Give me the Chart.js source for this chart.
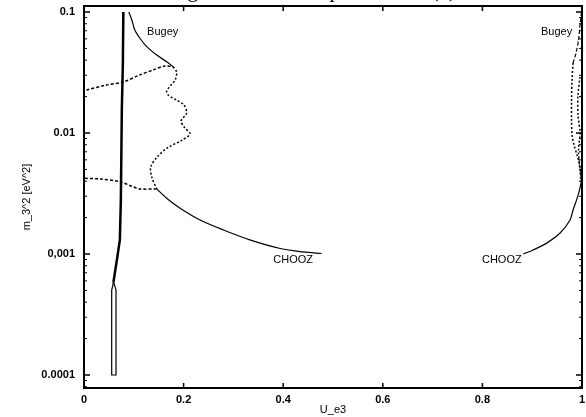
<!DOCTYPE html>
<html>
<head>
<meta charset="utf-8">
<style>
  html, body { margin: 0; padding: 0; background: #fff; }
  #wrap { width: 586px; height: 417px; }
</style>
</head>
<body>
<div id="wrap"><canvas id="chart" width="586" height="417"></canvas></div>
<script src="https://cdn.jsdelivr.net/npm/chart.js@4/dist/chart.umd.min.js"></script>
<script>
// axis ticks
const xTicks = [0, 0.2, 0.4, 0.6, 0.8, 1];
const xTickLabels = ['0', '0.2', '0.4', '0.6', '0.8', '1'];
const yTicks = [0.0001, 0.001, 0.01, 0.1];
const yTickLabels = ['0.0001', '0,001', '0.01', '0.1'];

// thick limit line, left
const limitU = [0.079, 0.078, 0.076, 0.074, 0.072, 0.066, 0.062, 0.059];
const limitM = [0.1, 0.0365, 0.0161, 0.00279, 0.00131, 0.00089, 0.00070, 0.00058];
// narrow double line at the bottom of it
const tubeU = [0.059, 0.0556, 0.0556, 0.0643, 0.0643, 0.060];
const tubeM = [0.00058, 0.0005, 0.0001, 0.0001, 0.0005, 0.00058];

// Bugey, left
const bugeyU = [0.090, 0.096, 0.102, 0.112, 0.126, 0.146, 0.166, 0.179];
const bugeyM = [0.1, 0.0859, 0.0710, 0.0610, 0.0517, 0.0441, 0.0388, 0.0353];
const bugeyDashU = [0.005, 0.045, 0.079, 0.112, 0.139, 0.162, 0.179];
const bugeyDashM = [0.0227, 0.0249, 0.0264, 0.0302, 0.0332, 0.0358, 0.0353];
const wiggleU = [0.179, 0.186, 0.183, 0.173, 0.166, 0.169, 0.186, 0.201, 0.206, 0.195, 0.201, 0.213, 0.197, 0.167, 0.147, 0.134, 0.136, 0.146];
const wiggleM = [0.0353, 0.0319, 0.0274, 0.0244, 0.0222, 0.0206, 0.0187, 0.0170, 0.0146, 0.0126, 0.0112, 0.00982, 0.00875, 0.00751, 0.00634, 0.00524, 0.00433, 0.00345];

// CHOOZ, left
const choozDashU = [0.002, 0.032, 0.072, 0.098, 0.112, 0.146];
const choozDashM = [0.00422, 0.00417, 0.00396, 0.00360, 0.00345, 0.00345];
const choozU = [0.146, 0.166, 0.193, 0.233, 0.280, 0.333, 0.394, 0.440, 0.477];
const choozM = [0.00345, 0.00289, 0.00239, 0.00191, 0.00158, 0.00131, 0.00111, 0.00104, 0.00101];

// right side, near U_e3 = 1
const bugeyRU = [0.999, 0.996, 0.993, 0.988, 0.982];
const bugeyRM = [0.1, 0.0781, 0.0587, 0.0458, 0.0379];
const dotR1U = [0.982, 0.980, 0.979, 0.979, 0.980, 0.984, 0.990, 0.996, 0.999];
const dotR1M = [0.0379, 0.0274, 0.0187, 0.0128, 0.00962, 0.00796, 0.00658, 0.00524, 0.00409];
const dotR2U = [0.996, 0.992, 0.992, 0.996, 0.993, 0.996, 0.998];
const dotR2M = [0.0291, 0.0206, 0.0141, 0.0100, 0.00724, 0.00494, 0.00386];
const choozRU = [0.998, 0.994, 0.989, 0.982, 0.976, 0.956, 0.929, 0.902, 0.882];
const choozRM = [0.00386, 0.00325, 0.00279, 0.00231, 0.00191, 0.00149, 0.00123, 0.00108, 0.00100];

// curve labels
const labelText = ['Bugey', 'Bugey', 'CHOOZ', 'CHOOZ'];
const labelU = [0.158, 0.949, 0.420, 0.839];
const labelM = [0.0684, 0.0684, 0.00089, 0.00089];

const titleText = 'Excluded region for reactor parameters (a)';

const pts = (u, m) => u.map((v, i) => ({ x: v, y: m[i] }));

function line(u, m, width, dash, tension) {
  return {
    data: pts(u, m),
    showLine: true,
    borderColor: '#000',
    borderWidth: width,
    borderDash: dash,
    pointRadius: 0,
    tension: tension,
  };
}

const decorations = {
  id: 'decorations',
  afterDraw(chart) {
    const { ctx, chartArea: a, scales: { x, y } } = chart;
    ctx.save();
    ctx.strokeStyle = '#000';
    ctx.lineWidth = 1.5;
    ctx.beginPath();
    xTicks.forEach((v) => {
      const px = x.getPixelForValue(v);
      ctx.moveTo(px, a.bottom); ctx.lineTo(px, a.bottom - 5);
      ctx.moveTo(px, a.top); ctx.lineTo(px, a.top + 5);
    });
    yTicks.forEach((v) => {
      const py = y.getPixelForValue(v);
      ctx.moveTo(a.left, py); ctx.lineTo(a.left + 6, py);
      ctx.moveTo(a.right, py); ctx.lineTo(a.right - 6, py);
    });
    ctx.stroke();
    ctx.lineWidth = 1;
    ctx.beginPath();
    [0.00001, 0.0001, 0.001, 0.01, 0.1].forEach((d) => {
      for (let k = 2; k < 10; k++) {
        const v = d * k;
        if (v < y.min || v > y.max) continue;
        const py = y.getPixelForValue(v);
        ctx.moveTo(a.left, py); ctx.lineTo(a.left + 3, py);
        ctx.moveTo(a.right, py); ctx.lineTo(a.right - 3, py);
      }
    });
    ctx.stroke();
    ctx.lineWidth = 2;
    ctx.strokeRect(a.left, a.top, a.width, a.height);

    ctx.fillStyle = '#000';
    ctx.font = '11px Arial, "Liberation Sans"';
    ctx.textAlign = 'center';
    ctx.textBaseline = 'middle';
    labelText.forEach((t, i) => {
      ctx.fillText(t, x.getPixelForValue(labelU[i]), y.getPixelForValue(labelM[i]));
    });

    // title sits mostly above the top edge, only its lowest strokes show
    ctx.font = '22px "Liberation Serif", "Times New Roman", serif';
    ctx.textAlign = 'right';
    ctx.textBaseline = 'alphabetic';
    ctx.fillText(titleText, 456, -3);
    ctx.restore();
  },
};

const tickFont = { family: 'Arial, "Liberation Sans"', size: 11, weight: 'bold' };
const titleFont = { family: 'Arial, "Liberation Sans"', size: 11 };

new Chart(document.getElementById('chart'), {
  type: 'scatter',
  data: {
    datasets: [
      line(limitU, limitM, 2.5, [], 0),
      line(tubeU, tubeM, 1.2, [], 0),
      line(bugeyU, bugeyM, 1.2, [], 0.3),
      line(bugeyDashU, bugeyDashM, 1.5, [3, 2], 0.3),
      line(wiggleU, wiggleM, 1.5, [2, 2], 0.3),
      line(choozDashU, choozDashM, 1.5, [3, 2], 0.3),
      line(choozU, choozM, 1.2, [], 0.3),
      line(bugeyRU, bugeyRM, 1.2, [4, 2], 0.3),
      line(dotR1U, dotR1M, 1.5, [2, 2], 0.3),
      line(dotR2U, dotR2M, 1.5, [2, 2], 0.3),
      line(choozRU, choozRM, 1.2, [], 0.3),
    ],
  },
  options: {
    responsive: false,
    animation: false,
    layout: { padding: { top: 6, right: 4, left: 0, bottom: 0 } },
    plugins: {
      legend: { display: false },
      tooltip: { enabled: false },
    },
    scales: {
      x: {
        type: 'linear',
        min: 0,
        max: 1,
        afterBuildTicks: (s) => { s.ticks = xTicks.map((v) => ({ value: v })); },
        afterFit: (s) => { s.height = 29; s.paddingLeft = 0; s.paddingRight = 0; },
        grid: { display: false, drawTicks: false },
        border: { display: false },
        ticks: {
          color: '#000',
          font: tickFont,
          padding: 5,
          maxRotation: 0,
          autoSkip: false,
          callback: (v, i) => xTickLabels[i],
        },
        title: {
          display: true,
          text: 'U_e3',
          color: '#000',
          font: titleFont,
          padding: { top: 0, bottom: 0 },
        },
      },
      y: {
        type: 'logarithmic',
        min: 7.81e-5,
        max: 0.1121,
        afterBuildTicks: (s) => { s.ticks = yTicks.map((v) => ({ value: v })); },
        afterFit: (s) => { s.width = 84; s.paddingTop = 0; s.paddingBottom = 0; },
        grid: { display: false, drawTicks: false },
        border: { display: false },
        ticks: {
          color: '#000',
          font: tickFont,
          padding: 9,
          autoSkip: false,
          callback: (v, i) => yTickLabels[i],
        },
        title: {
          display: true,
          text: 'm_3^2 [eV^2]',
          color: '#000',
          font: titleFont,
          padding: { top: 20, bottom: 0 },
        },
      },
    },
  },
  plugins: [decorations],
});
</script>
</body>
</html>
